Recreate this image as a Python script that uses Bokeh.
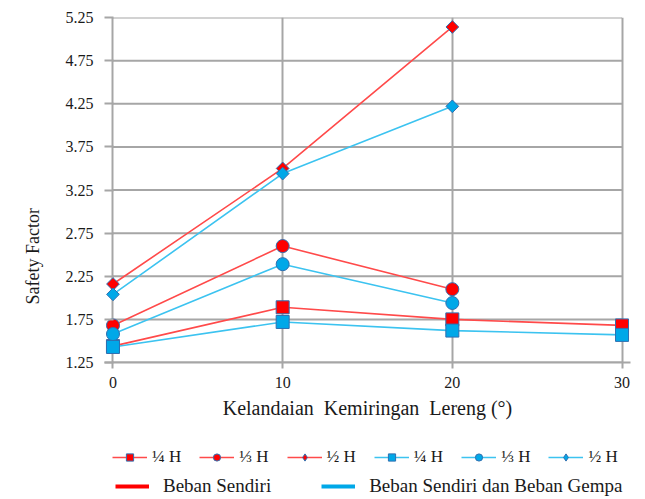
import math
from bokeh.plotting import figure
from bokeh.layouts import column
from bokeh.models import (Range1d, Legend, LegendItem, Title, FixedTicker,
                          NumeralTickFormatter)
from bokeh.embed import file_html
from bokeh.resources import INLINE

# ---- data ----
slope = [0, 10, 20, 30]
y_ticks = [1.25, 1.75, 2.25, 2.75, 3.25, 3.75, 4.25, 4.75, 5.25]

sendiri_q = [1.44, 1.89, 1.75, 1.68]      # 1/4 H, self weight
sendiri_t = [1.68, 2.60, 2.10]            # 1/3 H
sendiri_h = [2.16, 3.50, 5.14]            # 1/2 H
gempa_q = [1.43, 1.72, 1.62, 1.57]        # 1/4 H, self weight + earthquake
gempa_t = [1.58, 2.39, 1.94]
gempa_h = [2.04, 3.44, 4.22]

labels = ["\u00bc H", "\u2153 H", "\u00bd H"]
group_labels = ["Beban Sendiri", "Beban Sendiri dan Beban Gempa"]
x_title = "Kelandaian\u00a0\u00a0Kemiringan\u00a0\u00a0Lereng (\u00b0)"
y_title = "Safety Factor"

RED_LINE = "#ff4a4a"
RED_FILL = "#ff0000"
BLUE_LINE = "#3cc3f0"
BLUE_FILL = "#00a8e8"
EDGE = "#2f6fb0"
GRID = "#a6a6a6"
FONT = "Liberation Serif"
NAN = float("nan")

p = figure(width=645, height=430, output_backend="svg", toolbar_location=None,
           x_range=Range1d(-0.5, 30.5), y_range=Range1d(1.25, 5.25),
           min_border_left=101, min_border_right=15, min_border_top=17,
           min_border_bottom=68)
p.outline_line_color = None
p.background_fill_color = "white"

# grid
p.xgrid.ticker = FixedTicker(ticks=slope)
p.xgrid.grid_line_color = GRID
p.xgrid.grid_line_width = 2
p.ygrid.visible = False
p.segment(x0=[slope[0]] * len(y_ticks), x1=[slope[-1]] * len(y_ticks), y0=y_ticks, y1=y_ticks,
          line_color=GRID, line_width=2)

# axes
p.xaxis.ticker = FixedTicker(ticks=slope)
p.yaxis.ticker = FixedTicker(ticks=y_ticks)
p.yaxis.formatter = NumeralTickFormatter(format="0.00")
for ax in (p.xaxis[0], p.yaxis[0]):
    ax.major_tick_line_color = GRID
    ax.major_tick_line_width = 2
    ax.minor_tick_line_color = None
    ax.major_label_text_font = FONT
    ax.major_label_text_font_size = "16px"
    ax.major_label_text_color = "#1a1a1a"
p.xaxis.axis_line_color = GRID
p.xaxis.axis_line_width = 2
p.yaxis.axis_line_color = None
p.yaxis.major_tick_in = 9
p.yaxis.major_tick_out = 0
p.yaxis.major_label_standoff = 11
p.xaxis.major_tick_in = 0
p.xaxis.major_tick_out = 6
p.xaxis.major_label_standoff = 8
p.xaxis.axis_label = x_title
p.xaxis.axis_label_text_font = FONT
p.xaxis.axis_label_text_font_size = "20px"
p.xaxis.axis_label_text_font_style = "normal"
p.xaxis.axis_label_text_color = "#1a1a1a"
p.xaxis.axis_label_standoff = 6

ttl = Title(text=y_title, align="left", offset=58, standoff=40,
            text_font=FONT, text_font_size="18px", text_font_style="normal",
            text_color="#1a1a1a")
p.add_layout(ttl, "left")

# series
series = [
    (slope, sendiri_q, "square", 13, 0, RED_LINE, RED_FILL),
    (slope[:3], sendiri_t, "circle", 13, 0, RED_LINE, RED_FILL),
    (slope[:3], sendiri_h, "square", 9, math.pi / 4, RED_LINE, RED_FILL),
    (slope, gempa_q, "square", 13, 0, BLUE_LINE, BLUE_FILL),
    (slope[:3], gempa_t, "circle", 13, 0, BLUE_LINE, BLUE_FILL),
    (slope[:3], gempa_h, "square", 9, math.pi / 4, BLUE_LINE, BLUE_FILL),
]
for xs, ys, mk, sz, ang, lc, fc in series:
    p.line(xs, ys, line_color=lc, line_width=1.6)
    p.scatter(xs, ys, marker=mk, size=sz, angle=ang, fill_color=fc,
              line_color=EDGE, line_width=1)

# ---- legend strip (separate figure below the chart) ----
q = figure(width=645, height=69, output_backend="svg", toolbar_location=None,
           x_range=Range1d(0, 1), y_range=Range1d(0, 1),
           min_border_left=0, min_border_right=0, min_border_top=0, min_border_bottom=0)
q.axis.visible = False
q.grid.visible = False
q.outline_line_color = None

legend_markers = ["square", "circle", "diamond"]
items1 = []
for i, (xs, ys, mk, sz, ang, lc, fc) in enumerate(series):
    lr = q.line([NAN], [NAN], line_color=lc, line_width=1.6)
    sr = q.scatter([NAN], [NAN], marker=legend_markers[i % 3], size=13, fill_color=fc,
                   line_color=EDGE, line_width=1)
    items1.append(LegendItem(label=labels[i % 3], renderers=[lr, sr]))
r_red = q.line([NAN], [NAN], line_color=RED_FILL, line_width=4)
r_blue = q.line([NAN], [NAN], line_color=BLUE_FILL, line_width=4)
items2 = [LegendItem(label=group_labels[0], renderers=[r_red]),
          LegendItem(label=group_labels[1], renderers=[r_blue])]

def style(lg, size):
    lg.orientation = "horizontal"
    lg.border_line_color = None
    lg.background_fill_alpha = 0
    lg.label_text_font = FONT
    lg.label_text_font_size = size
    lg.label_text_color = "#1a1a1a"
    lg.padding = 0
    lg.margin = 0
    lg.glyph_height = 18
    lg.label_height = 18

lg1 = Legend(items=items1, location=(8, 32))
style(lg1, "17px")
lg1.glyph_width = 35
lg1.label_standoff = 5
lg1.spacing = 18
lg2 = Legend(items=items2, location=(11, 2))
style(lg2, "19px")
lg2.glyph_width = 34
lg2.label_standoff = 14
lg2.spacing = 50
q.add_layout(lg1, "center")
q.add_layout(lg2, "center")

open("out.html", "w").write(file_html(column(p, q, spacing=0), INLINE))
